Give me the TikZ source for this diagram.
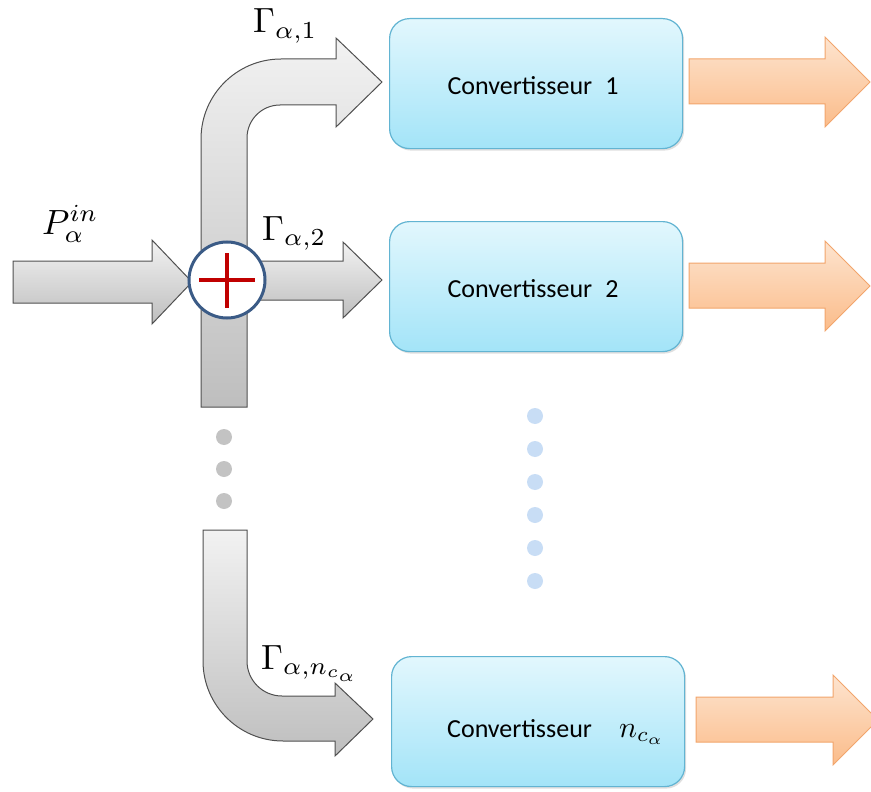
\documentclass[tikz,border=0pt]{standalone}
\usepackage{graphicx}
\usepackage{fontspec}
\usetikzlibrary{shadows}
\newfontfamily\calib{Carlito}
\newcommand\mylab[1]{\scalebox{3.5}{$#1$}}
\newcommand\mylabs[1]{\scalebox{3.0}{$#1$}}
\definecolor{gtop}{HTML}{F2F2F2}
\definecolor{gbot}{HTML}{BEBEBE}
\definecolor{gline}{HTML}{505050}
\definecolor{btop}{HTML}{E2F7FD}
\definecolor{bbot}{HTML}{A3E4F8}
\definecolor{bline}{HTML}{62B4D2}
\definecolor{otop}{HTML}{FDE4CF}
\definecolor{obot}{HTML}{FBBC8A}
\definecolor{oline}{HTML}{F2A56C}
\definecolor{cline}{HTML}{3B5B86}
\definecolor{plusred}{HTML}{C00000}
\definecolor{gdot}{HTML}{C3C3C3}
\definecolor{bdot}{HTML}{C8DDF5}
\tikzset{
  garrow/.style={draw=gline, line width=1pt, top color=gtop, bottom color=gbot, line join=miter},
  oarrow/.style={draw=oline, line width=1pt, top color=otop, bottom color=obot},
  convbox/.style={draw=bline, line width=1.2pt, rounded corners=20pt, top color=btop, bottom color=bbot,
     minimum width=293pt, minimum height=130pt, inner sep=0pt, anchor=north west,
     drop shadow={opacity=0.25, shadow xshift=1.5pt, shadow yshift=-2pt}},
  convtext/.style={font=\calib\fontsize{26}{30}\selectfont},
  lab/.style={inner sep=0pt, anchor=base west},
  gd/.style={fill=gdot, draw=none, circle, minimum size=16pt, inner sep=0pt},
  bd/.style={fill=bdot, draw=none, circle, minimum size=16pt, inner sep=0pt}
}
\begin{document}
\begin{tikzpicture}[x=1pt,y=-1pt]
\useasboundingbox (0,0) rectangle (871,792);
\clip (0,0) rectangle (871,792);
% top bent arrow
\path[garrow] (201,407) -- (201,139) arc[start angle=180, end angle=270, radius=80]
  -- (336,59) -- (336,38) -- (382,82) -- (336,127) -- (336,105) -- (280,105)
  arc[start angle=270, end angle=180, radius=33] -- (247,407) -- cycle;
% bottom bent arrow
\path[garrow] (203,530) -- (203,661) arc[start angle=180, end angle=90, radius=80]
  -- (335,741) -- (335,756) -- (373,719) -- (335,683) -- (335,696) -- (282,696)
  arc[start angle=90, end angle=180, radius=35] -- (247,530) -- cycle;
% middle arrow
\path[garrow] (240,261) -- (343,261) -- (343,242) -- (382,280) -- (343,318) -- (343,300) -- (240,300) -- cycle;
% input arrow
\path[garrow] (13,261) -- (152,261) -- (152,240) -- (192,282) -- (152,324) -- (152,303) -- (13,303) -- cycle;
% summing junction
\node[circle, draw=cline, line width=3pt, fill=white, minimum size=76pt, inner sep=0pt] (sum) at (227,280) {};
\draw[plusred, line width=4pt] (199,280) -- (255,280);
\draw[plusred, line width=4pt] (227,253) -- (227,308);
% labels
\node[lab] (lp) at (42,234) {\mylab{P_{\alpha}^{in}}};
\node[lab] (l1) at (253,33) {\mylab{\Gamma_{\alpha,1}}};
\node[lab] (l2) at (262,240) {\mylab{\Gamma_{\alpha,2}}};
\node[lab] (l3) at (261,669) {\mylab{\Gamma_{\alpha,n_{c_{\alpha}}}}};
% boxes
\node[convbox] (c1) at (389,18) {};
\node[convbox] (c2) at (389,221) {};
\node[convbox] (c3) at (391,656) {};
\node[convtext] (t1) at (533,86) {Convertisseur\hspace{0.5em}1};
\node[convtext] (t2) at (533,289) {Convertisseur\hspace{0.5em}2};
\node[convtext, anchor=base west, inner sep=0pt] (t3) at (447,737) {Convertisseur};
\node[lab] (t3n) at (619,737) {\mylabs{n_{c_{\alpha}}}};
% output arrows
\path[oarrow] (689,59) -- (825,59) -- (825,37) -- (870,82) -- (825,127) -- (825,104) -- (689,104) -- cycle;
\path[oarrow] (689,263) -- (825,263) -- (825,241) -- (870,286) -- (825,331) -- (825,308) -- (689,308) -- cycle;
\path[oarrow] (696,697) -- (833,697) -- (833,675) -- (878,720) -- (833,765) -- (833,742) -- (696,742) -- cycle;
% dots
\foreach \y [count=\i] in {437,469,501} \node[gd] (g\i) at (224,\y) {};
\foreach \y [count=\i] in {416,449,482,515,548,581} \node[bd] (b\i) at (535,\y) {};
\end{tikzpicture}
\end{document}
